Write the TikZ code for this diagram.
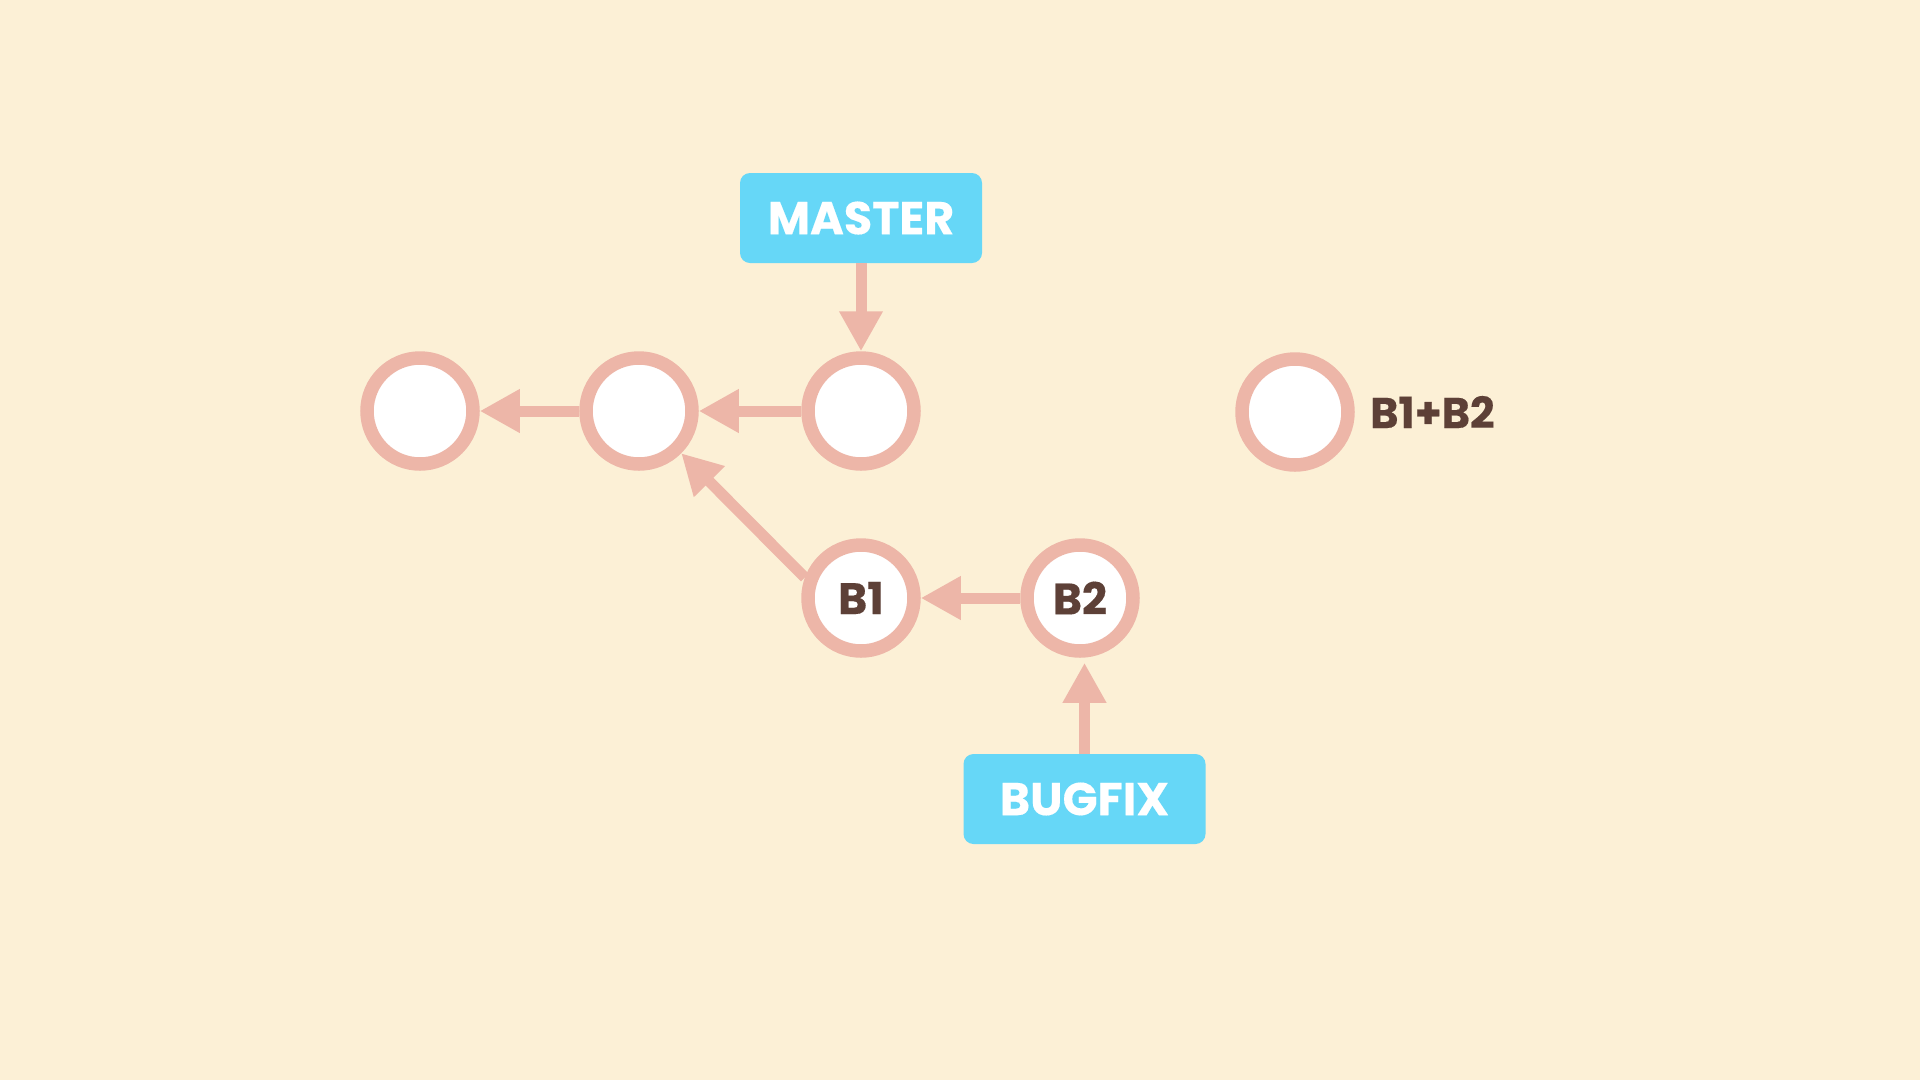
\documentclass[tikz,border=0pt]{standalone}
\usepackage{fontspec}
\setmainfont{Poppins}
\newfontfamily\popb{Poppins}[FakeBold=0.3]
\usetikzlibrary{arrows.meta}
\definecolor{bgc}{HTML}{FCF0D6}
\definecolor{ringc}{HTML}{EDB6A8}
\definecolor{boxc}{HTML}{66D7F7}
\definecolor{txtc}{HTML}{5D4037}
\tikzset{
  commit/.style={circle, draw=ringc, line width=13.5pt, fill=white, minimum size=106pt, inner sep=0pt,
    text=txtc, font=\popb\fontsize{44}{48}\selectfont\bfseries},
  branchbox/.style={fill=boxc, rounded corners=10pt, minimum width=242pt, minimum height=90pt, inner sep=0pt,
    text=white, font=\popb\fontsize{46}{50}\selectfont\bfseries},
  conn/.style={draw=ringc, line width=11pt, -{Triangle[length=40pt,width=41pt]}},
  plain/.style={text=txtc, font=\popb\fontsize{43}{46}\selectfont\bfseries, inner sep=0pt, anchor=west}
}
\begin{document}
\begin{tikzpicture}[x=1pt,y=-1pt]
\fill[bgc] (0,0) rectangle (1920,1080);
\useasboundingbox (0,0) rectangle (1920,1080);
\node[commit] (c1) at (420,411) {};
\node[commit] (c2) at (639,411) {};
\node[commit] (c3) at (861,411) {};
\node[commit] (m) at (1295,412) {};
\node[commit] (b1) at (861,598) {B1};
\node[commit] (b2) at (1080,598) {B2};
\node[plain] (mlabel) at (1370,412) {B1+B2};
\node[branchbox] (master) at (861,218) {MASTER};
\node[branchbox] (bugfix) at (1084.5,799) {BUGFIX};
\draw[conn] (master.south) -- (c3.north);
\draw[conn] (c3.west) -- (c2.east);
\draw[conn] (c2.west) -- (c1.east);
\draw[conn] (b2.west) -- (b1.east);
\draw[conn] (b1.160) -- (c2.-45);
\draw[conn] (bugfix.north) -- ([yshift=-5pt]b2.south -| bugfix.north);
\end{tikzpicture}
\end{document}
